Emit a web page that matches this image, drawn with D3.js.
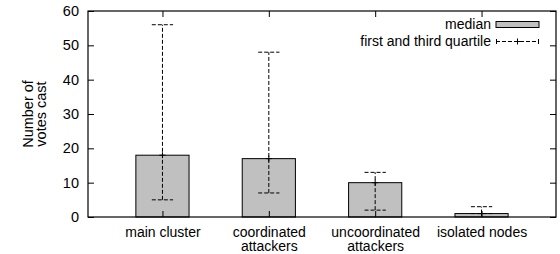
<!DOCTYPE html>
<html>
<head>
<meta charset="utf-8">
<script src="https://cdn.jsdelivr.net/npm/d3@7"></script>
<style>
  body { margin: 0; background: #fff; }
  text { font-family: "Liberation Sans", Helvetica, Arial, sans-serif; }
</style>
</head>
<body>
<div id="chart"></div>
<script>
// data
const categories = [['main cluster'], ['coordinated', 'attackers'], ['uncoordinated', 'attackers'], ['isolated nodes']];
const medians = [18, 17, 10, 1];
const firstQuartile = [5, 7, 2, 1];
const thirdQuartile = [56, 48, 13, 3];
const yTicks = [0, 10, 20, 30, 40, 50, 60];

const width = 560, height = 254;
const margin = { top: 11, right: 4, bottom: 37, left: 88 };

const svg = d3.select('#chart')
  .append('svg')
  .attr('width', width)
  .attr('height', height);

const x = d3.scaleLinear()
  .domain([0.3, 4.7])
  .range([margin.left, width - margin.right]);

const y = d3.scaleLinear()
  .domain([0, 60])
  .range([height - margin.bottom, margin.top]);

const idx = categories.map((d, i) => i + 1);
const barW = x(1.25) - x(0.75);
const capW = x(1.1) - x(0.9);

// Bars
svg.selectAll('rect.bar')
  .data(idx)
  .enter()
  .append('rect')
  .attr('class', 'bar')
  .attr('x', d => x(d) - barW / 2)
  .attr('y', (d, i) => y(medians[i]))
  .attr('width', barW)
  .attr('height', (d, i) => y(0) - y(medians[i]))
  .attr('fill', '#c0c0c0')
  .attr('stroke', '#000')
  .attr('stroke-width', 1);

// Error bars (first and third quartile)
const err = svg.append('g')
  .attr('stroke', '#000')
  .attr('stroke-width', 1)
  .attr('stroke-dasharray', '4,2');

idx.forEach((d, i) => {
  err.append('line')
    .attr('x1', x(d)).attr('x2', x(d))
    .attr('y1', y(firstQuartile[i])).attr('y2', y(thirdQuartile[i]));
  [firstQuartile[i], thirdQuartile[i]].forEach(v => {
    err.append('line')
      .attr('x1', x(d) - capW / 2).attr('x2', x(d) + capW / 2)
      .attr('y1', y(v)).attr('y2', y(v));
  });
  // plus marker at the median
  svg.append('path')
    .attr('d', `M${x(d) - 3},${y(medians[i])}h6M${x(d)},${y(medians[i]) - 3}v6`)
    .attr('stroke', '#000')
    .attr('stroke-width', 1);
});

// Frame
svg.append('rect')
  .attr('x', x(0.3))
  .attr('y', y(60))
  .attr('width', x(4.7) - x(0.3))
  .attr('height', y(0) - y(60))
  .attr('fill', 'none')
  .attr('stroke', '#000')
  .attr('stroke-width', 1.2);

// Y axis (left) with labels
svg.append('g')
  .attr('transform', `translate(${x(0.3)},0)`)
  .call(d3.axisLeft(y).tickValues(yTicks).tickSize(-6).tickPadding(9))
  .call(g => g.select('.domain').remove())
  .call(g => g.selectAll('text').attr('font-size', 14.5).attr('fill', '#000'));

// Y axis (right) mirrored ticks
svg.append('g')
  .attr('transform', `translate(${x(4.7)},0)`)
  .call(d3.axisRight(y).tickValues(yTicks).tickSize(-6).tickFormat(''))
  .call(g => g.select('.domain').remove());

// Top mirrored category ticks
svg.append('g')
  .attr('transform', `translate(0,${y(60)})`)
  .call(d3.axisTop(x).tickValues(idx).tickSize(-6).tickFormat(''))
  .call(g => g.select('.domain').remove());

// Bottom category ticks and labels
const xAxis = svg.append('g')
  .attr('transform', `translate(0,${y(0)})`)
  .call(d3.axisBottom(x).tickValues(idx).tickSize(-6).tickFormat(''))
  .call(g => g.select('.domain').remove());

xAxis.selectAll('.tick')
  .append('text')
  .attr('fill', '#000')
  .attr('font-size', 14)
  .attr('text-anchor', 'middle')
  .each(function(d) {
    const t = d3.select(this);
    categories[d - 1].forEach((line, j) => {
      t.append('tspan')
        .attr('x', 0)
        .attr('y', 19.5 + j * 14)
        .text(line);
    });
  });

// Y label
const yl = svg.append('text')
  .attr('transform', `translate(35,${(y(0) + y(60)) / 2}) rotate(-90)`)
  .attr('text-anchor', 'middle')
  .attr('font-size', 14.5)
  .attr('fill', '#000');
yl.append('tspan').attr('x', 0).attr('y', -2).text('Number of');
yl.append('tspan').attr('x', 0).attr('y', 11).text('votes cast');

// Legend
const lg = svg.append('g');
lg.append('text')
  .attr('x', 491).attr('y', 28.5)
  .attr('text-anchor', 'end')
  .attr('font-size', 14)
  .text('median');
lg.append('rect')
  .attr('x', 496).attr('y', 21.5)
  .attr('width', 43).attr('height', 6)
  .attr('fill', '#c0c0c0')
  .attr('stroke', '#000')
  .attr('stroke-width', 1);
lg.append('text')
  .attr('x', 491).attr('y', 45.5)
  .attr('text-anchor', 'end')
  .attr('font-size', 14)
  .text('first and third quartile');
lg.append('line')
  .attr('x1', 496).attr('x2', 539)
  .attr('y1', 41.5).attr('y2', 41.5)
  .attr('stroke', '#000')
  .attr('stroke-dasharray', '4,2');
lg.append('path')
  .attr('d', 'M496.5,39v5M538.5,39v5M514.5,41.5h6M517.5,38.5v6')
  .attr('stroke', '#000');
</script>
</body>
</html>
